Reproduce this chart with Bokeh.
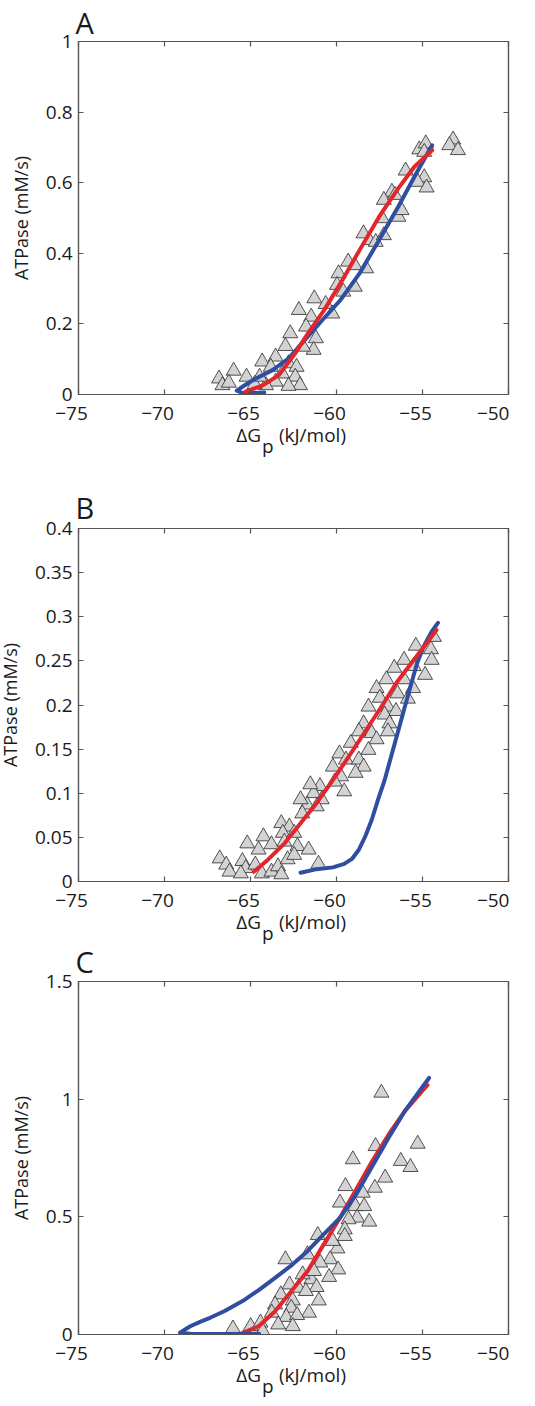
from bokeh.plotting import figure
from bokeh.models import Range1d, FixedTicker, LinearAxis
from bokeh.layouts import column
from bokeh.embed import file_html
from bokeh.resources import INLINE

# ---------------- data ----------------
x_ticks = [-75, -70, -65, -60, -55, -50]
x_tick_labels = ["\u221275", "\u221270", "\u221265", "\u221260", "\u221255", "\u221250"]

a_yticks = [0, 0.2, 0.4, 0.6, 0.8, 1.0]
a_ytick_labels = ["0", "0.2", "0.4", "0.6", "0.8", "1"]
b_yticks = [0, 0.05, 0.1, 0.15, 0.2, 0.25, 0.3, 0.35, 0.4]
b_ytick_labels = ["0", "0.05", "0.1", "0.15", "0.2", "0.25", "0.3", "0.35", "0.4"]
c_yticks = [0, 0.5, 1.0, 1.5]
c_ytick_labels = ["0", "0.5", "1", "1.5"]

x_label_parts = ["\u0394G", "p", "(kJ/mol)"]
y_label = "ATPase (mM/s)"
panel_letters = ["A", "B", "C"]

# Panel A measurements
a_x = [-53.22, -53.44, -52.94, -55.19, -54.81, -54.90, -55.98, -54.90, -55.28, -54.76,
       -56.78, -57.25, -56.40, -56.22, -57.35, -58.43, -58.10, -57.72, -57.25, -59.32,
       -58.94, -58.28, -59.88, -59.97, -58.94, -59.60, -61.29, -60.63, -60.25, -62.19,
       -61.47, -61.77, -61.20, -61.33, -62.69, -62.97, -61.94, -63.54, -64.32, -63.82,
       -62.79, -62.32, -63.16, -62.40, -62.12, -62.79, -63.54, -64.10, -64.76, -65.23,
       -65.98, -66.83, -66.63, -66.26, -64.47, -56.60]
a_y = [0.722, 0.706, 0.692, 0.694, 0.711, 0.687, 0.634, 0.615, 0.602, 0.586,
       0.574, 0.551, 0.503, 0.522, 0.499, 0.456, 0.437, 0.432, 0.451, 0.376,
       0.366, 0.357, 0.343, 0.310, 0.305, 0.291, 0.272, 0.256, 0.229, 0.239,
       0.220, 0.192, 0.159, 0.126, 0.173, 0.137, 0.135, 0.107, 0.093, 0.078,
       0.088, 0.078, 0.059, 0.050, 0.026, 0.024, 0.036, 0.026, 0.029, 0.050,
       0.067, 0.045, 0.026, 0.033, 0.050, 0.565]
a_red_x = [-65.3, -64.29, -63.35, -62.41, -61.66, -60.72, -59.78, -58.66, -57.53, -56.41, -55.47, -54.44]
a_red_y = [0.008, 0.026, 0.055, 0.116, 0.173, 0.239, 0.314, 0.409, 0.503, 0.584, 0.645, 0.692]
a_blue_x = [-64.2, -64.9, -65.5, -65.8, -65.4, -64.85, -63.72, -62.79, -61.85, -60.91, -59.78,
            -58.66, -57.53, -56.41, -55.47, -54.44]
a_blue_y = [0.006, 0.004, 0.005, 0.011, 0.024, 0.041, 0.069, 0.102, 0.154, 0.206, 0.267,
            0.343, 0.437, 0.532, 0.617, 0.706]

# Panel B measurements
b_x = [-54.34, -55.39, -54.51, -54.47, -56.07, -55.51, -56.64, -54.85, -57.10, -56.07,
       -57.67, -55.55, -56.45, -55.85, -58.14, -57.48, -57.01, -56.54, -57.20, -56.92,
       -57.01, -58.42, -58.70, -57.95, -57.67, -59.17, -58.14, -59.83, -59.45, -58.70,
       -58.42, -58.89, -60.21, -59.74, -60.11, -59.55, -60.96, -61.33, -61.52, -60.86,
       -61.71, -62.09, -61.15, -61.99, -63.21, -62.74, -63.12, -62.46, -64.25, -65.19,
       -64.53, -63.78, -63.03, -62.27, -61.62, -61.05, -66.79, -66.41, -66.22, -65.47,
       -65.28, -64.72, -64.34, -63.78, -63.40, -63.21, -62.84, -62.46, -65.56]
b_y = [0.277, 0.267, 0.263, 0.251, 0.251, 0.244, 0.242, 0.234, 0.229, 0.229,
       0.219, 0.219, 0.213, 0.207, 0.198, 0.208, 0.198, 0.193, 0.189, 0.179,
       0.170, 0.179, 0.170, 0.168, 0.161, 0.157, 0.149, 0.145, 0.138, 0.138,
       0.130, 0.123, 0.130, 0.119, 0.113, 0.102, 0.108, 0.100, 0.110, 0.093,
       0.087, 0.093, 0.085, 0.077, 0.066, 0.062, 0.055, 0.055, 0.051, 0.043,
       0.036, 0.042, 0.045, 0.040, 0.036, 0.020, 0.026, 0.019, 0.011, 0.023,
       0.015, 0.019, 0.009, 0.011, 0.017, 0.008, 0.025, 0.030, 0.009]
b_red_x = [-64.81, -63.97, -63.03, -62.09, -61.15, -60.21, -59.27, -58.33, -57.39, -56.45, -55.51, -54.76, -54.19]
b_red_y = [0.011, 0.025, 0.043, 0.066, 0.089, 0.115, 0.142, 0.170, 0.198, 0.227, 0.251, 0.270, 0.285]
b_blue_x = [-62.09, -61.15, -60.21, -59.55, -59.08, -58.70, -58.33, -57.95, -57.58, -57.20,
            -56.82, -56.45, -56.07, -55.70, -55.32, -54.94, -54.47, -54.10]
b_blue_y = [0.010, 0.014, 0.016, 0.020, 0.026, 0.036, 0.051, 0.070, 0.093, 0.115,
            0.142, 0.168, 0.195, 0.221, 0.247, 0.266, 0.283, 0.293]

# Panel C measurements
c_x = [-57.39, -55.28, -57.73, -59.05, -56.26, -55.70, -57.17, -57.77, -59.48, -59.80,
       -58.90, -58.39, -58.48, -58.80, -58.10, -59.30, -59.52, -59.52, -61.09, -59.95,
       -60.37, -59.90, -60.43, -60.94, -61.69, -62.97, -61.46, -61.16, -61.03, -62.73,
       -62.22, -63.24, -63.57, -63.76, -62.54, -62.63, -61.60, -62.92, -62.29, -62.54,
       -66.02, -64.99, -64.42, -64.29, -63.39, -61.78, -61.97, -61.31, -60.22]
c_y = [1.027, 0.810, 0.800, 0.744, 0.737, 0.711, 0.666, 0.623, 0.630, 0.560,
       0.545, 0.545, 0.602, 0.496, 0.479, 0.489, 0.446, 0.418, 0.422, 0.365,
       0.319, 0.276, 0.244, 0.305, 0.340, 0.319, 0.234, 0.201, 0.144, 0.212,
       0.198, 0.170, 0.127, 0.092, 0.144, 0.113, 0.092, 0.074, 0.082, 0.035,
       0.025, 0.035, 0.050, 0.014, 0.042, 0.184, 0.255, 0.269, 0.397]
c_red_x = [-65.46, -64.52, -63.57, -62.63, -61.69, -60.75, -59.80, -58.86, -57.92, -56.97, -56.03, -54.71]
c_red_y = [0.007, 0.035, 0.099, 0.184, 0.269, 0.382, 0.496, 0.616, 0.737, 0.850, 0.949, 1.060]
c_blue_x = [-64.5, -66.5, -68.5, -69.1, -68.5, -67.9, -67.35, -66.5, -65.46, -64.5, -63.57,
            -62.6, -61.69, -60.75, -59.80, -58.86, -57.92, -56.97, -56.03, -54.62]
c_blue_y = [0.003, 0.002, 0.003, 0.008, 0.035, 0.055, 0.071, 0.100, 0.142, 0.190, 0.241,
            0.295, 0.354, 0.425, 0.496, 0.595, 0.715, 0.836, 0.949, 1.090]

# ---------------- style ----------------
FONT = "Open Sans"
TXT = "#1a1a1a"
FRAME = "#555555"
BLUE = "#2f4ea1"
RED = "#e3262b"
PAD = "\u2007\u2009"   # trailing pad so digits (not the minus) sit centred on the tick
FRAME_W = 442
FRAME_H = 353
SHIFT_L = 12           # canvas is pulled left by this many px (room for the y label)
X0, X1 = -75, -50


def px_to_x(dpx):
    """pixel offset from the frame centre -> data x"""
    return (X0 + X1) / 2 + dpx * (X1 - X0) / FRAME_W


def style_axis(ax, ticks, labels, show, standoff=6):
    ax.ticker = FixedTicker(ticks=ticks)
    ax.major_tick_in = 5
    ax.major_tick_out = 0
    ax.minor_tick_in = 0
    ax.minor_tick_out = 0
    ax.axis_line_color = FRAME
    ax.axis_line_width = 1.2
    ax.major_tick_line_color = FRAME
    ax.major_tick_line_width = 1.2
    ax.major_label_text_font = FONT
    ax.major_label_text_font_size = "19px"
    ax.major_label_text_color = TXT
    if show:
        ax.major_label_overrides = {t: l for t, l in zip(ticks, labels)}
        ax.major_label_standoff = standoff
    else:
        ax.major_label_overrides = {t: "" for t in ticks}
        ax.major_label_text_color = None
        ax.major_label_standoff = 0


def text_axis(positions, texts, standoff):
    return LinearAxis(ticker=FixedTicker(ticks=positions),
                      major_label_overrides={t: s for t, s in zip(positions, texts)},
                      major_tick_in=0, major_tick_out=0, minor_tick_in=0, minor_tick_out=0,
                      axis_line_color=None, major_tick_line_color=None,
                      major_label_text_font=FONT, major_label_text_font_size="19px",
                      major_label_text_color=TXT, major_label_standoff=standoff)


def panel(letter, title_standoff, px, py, rx, ry, bx, by, yticks, ylabels, ymax,
          top, bottom, red_on_top, margin_top):
    left = 78 + SHIFT_L
    p = figure(width=left + FRAME_W + 15, height=top + FRAME_H + bottom,
               x_range=Range1d(X0, X1), y_range=Range1d(0, ymax),
               output_backend="svg", toolbar_location=None,
               min_border_left=left, min_border_right=15,
               min_border_top=top, min_border_bottom=bottom,
               background_fill_color="white", border_fill_color=None,
               outline_line_color=FRAME, outline_line_width=1.2,
               margin=(margin_top, 0, 0, -SHIFT_L))
    p.xgrid.visible = False
    p.ygrid.visible = False
    style_axis(p.xaxis[0], x_ticks, [l + PAD for l in x_tick_labels], True, standoff=5)
    style_axis(p.yaxis[0], yticks, ylabels, True, standoff=6)
    p.yaxis[0].axis_label = y_label
    p.yaxis[0].axis_label_text_font = FONT
    p.yaxis[0].axis_label_text_font_size = "18px"
    p.yaxis[0].axis_label_text_font_style = "normal"
    p.yaxis[0].axis_label_text_color = TXT
    p.yaxis[0].axis_label_standoff = 10

    top_ax = LinearAxis()
    right_ax = LinearAxis()
    style_axis(top_ax, x_ticks, x_tick_labels, False)
    style_axis(right_ax, yticks, ylabels, False)
    p.add_layout(top_ax, "above")
    p.add_layout(right_ax, "right")

    # x axis label  ΔG_p (kJ/mol), built from label rows below the axis
    row1 = text_axis([px_to_x(-46), px_to_x(19.5)], [x_label_parts[0], x_label_parts[2]], -7)
    row2 = text_axis([px_to_x(-26.5)], [x_label_parts[1]], -18)
    p.add_layout(row1, "below")
    p.add_layout(row2, "below")

    p.title.text = letter
    p.title.text_font = FONT
    p.title.text_font_size = "29px"
    p.title.text_font_style = "normal"
    p.title.text_color = TXT
    p.title.align = "left"
    p.title.offset = -3
    p.title.standoff = title_standoff

    p.scatter(px, py, marker="triangle", size=15, fill_color="#d3d3d3",
              line_color="#2a2a2a", line_width=0.8)
    if red_on_top:
        p.line(bx, by, line_color=BLUE, line_width=4, line_join="round", line_cap="round")
        p.line(rx, ry, line_color=RED, line_width=4, line_join="round", line_cap="round")
    else:
        p.line(rx, ry, line_color=RED, line_width=4, line_join="round", line_cap="round")
        p.line(bx, by, line_color=BLUE, line_width=4, line_join="round", line_cap="round")
    return p


pa = panel(panel_letters[0], 0, a_x, a_y, a_red_x, a_red_y, a_blue_x, a_blue_y,
           a_yticks, a_ytick_labels, 1.0, 41, 72, True, 0)
pb = panel(panel_letters[1], 3, b_x, b_y, b_red_x, b_red_y, b_blue_x, b_blue_y,
           b_yticks, b_ytick_labels, 0.4, 62, 72, True, 0)
pc = panel(panel_letters[2], 1, c_x, c_y, c_red_x, c_red_y, c_blue_x, c_blue_y,
           c_yticks, c_ytick_labels, 1.5, 46, 70, False, -18)

layout = column(pa, pb, pc, spacing=0)
open("out.html", "w").write(file_html(layout, INLINE))
